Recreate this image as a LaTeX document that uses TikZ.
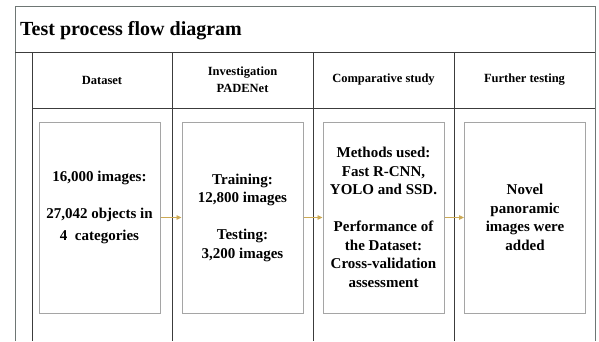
\documentclass[tikz,border=0pt]{standalone}
\usepackage{fontspec}
\setmainfont{Liberation Serif}
\usetikzlibrary{arrows.meta,shadows}
\definecolor{frameline}{RGB}{110,118,116}
\definecolor{gridline}{RGB}{60,60,60}
\definecolor{boxline}{RGB}{165,165,165}
\definecolor{flowgold}{RGB}{205,170,85}
\tikzset{
  framepath/.style={draw=frameline, line width=1pt},
  gridpath/.style={draw=gridline, line width=0.9pt},
  headtext/.style={font=\bfseries\fontsize{12.5}{17}\selectfont, align=center, inner sep=0pt},
  bodytext/.style={font=\bfseries\fontsize{15}{18.5}\selectfont, align=center, inner sep=0pt},
  stagebox/.style={draw=boxline, line width=1pt, fill=white, minimum width=121pt, minimum height=191pt, inner sep=0pt,
    drop shadow={shadow xshift=0.8pt, shadow yshift=-0.8pt, opacity=0.2}},
  flowarrow/.style={draw=flowgold, line width=0.8pt, -{Triangle[length=5pt,width=4.5pt]}},
}
\begin{document}
\begin{tikzpicture}[x=1pt, y=-1pt]
\useasboundingbox (0,0) rectangle (599,341);
\fill[white] (0,0) rectangle (599,341);

% outer frame, open at the bottom
\draw[framepath] (15,341) -- (15,6) -- (595,6) -- (595,341);
\draw[gridpath] (15,52) -- (595,52);
% column grid
\draw[gridpath] (32,52) -- (32,341);
\draw[gridpath] (32,108) -- (595,108);
\draw[gridpath] (172,52) -- (172,341);
\draw[gridpath] (313,52) -- (313,341);
\draw[gridpath] (454,52) -- (454,341);

% title
\node[anchor=west, font=\bfseries\fontsize{20}{24}\selectfont, inner sep=0pt] (title) at (20,31) {Test process flow diagram};

% column headings
\node[headtext] (h1) at (102,80) {Dataset};
\node[headtext] (h2) at (242.5,80) {Investigation\\PADENet};
\node[headtext] (h3) at (383.5,80) {Comparative study};
\node[headtext] (h4) at (524.5,80) {Further testing};

% stage boxes
\node[stagebox] (b1) at (99.5,217.5) {};
\node[stagebox] (b2) at (242.5,217.5) {};
\node[stagebox] (b3) at (383.5,217.5) {};
\node[stagebox] (b4) at (525,217.5) {};

% stage texts
\node[bodytext] (t1) at (99.5,207) {16,000 images:\\[18.5pt]27,042 objects in\\[3.5pt]4~~categories};
\node[bodytext] (t2) at (242.5,217.5) {Training:\\12,800 images\\[18.5pt]Testing:\\3,200 images};
\node[bodytext] (t3) at (383.5,217.5) {Methods used:\\Fast R-CNN,\\YOLO and SSD.\\[18.5pt]Performance of\\the Dataset:\\Cross-validation\\assessment};
\node[bodytext] (t4) at (525,217.5) {Novel\\panoramic\\images were\\added};

% flow arrows
\draw[flowarrow] (b1.east) -- (b2.west);
\draw[flowarrow] (b2.east) -- (b3.west);
\draw[flowarrow] (b3.east) -- (b4.west);
\end{tikzpicture}
\end{document}
